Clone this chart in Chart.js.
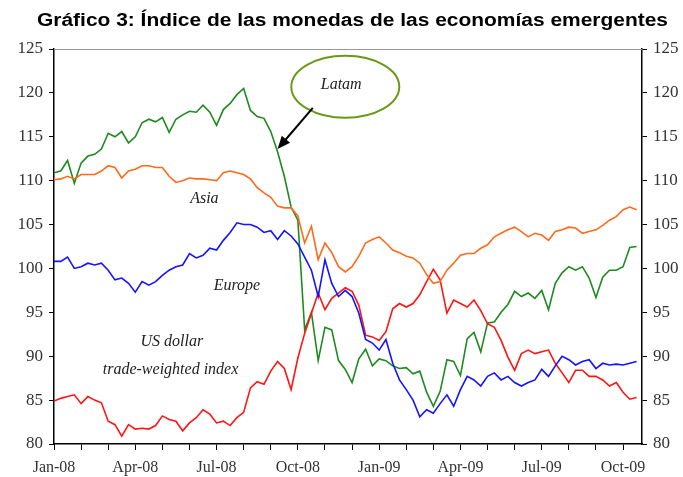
<!DOCTYPE html>
<html>
<head>
<meta charset="utf-8">
<script src="https://cdn.jsdelivr.net/npm/chart.js@4.4.1/dist/chart.umd.min.js"></script>
<style>
  body { margin: 0; background: #fff; }
  canvas { display: block; }
</style>
</head>
<body>
<canvas id="fxChart" width="683" height="477"></canvas>
<script>
// one point roughly every week (0.25 month), starting Jan-08
const STEP = 0.25;
const chartTitle = 'Gráfico 3: Índice de las monedas de las economías emergentes';
const tickLabels = ['Jan-08', 'Apr-08', 'Jul-08', 'Oct-08', 'Jan-09', 'Apr-09', 'Jul-09', 'Oct-09'];
const yTicks = [80, 85, 90, 95, 100, 105, 110, 115, 120, 125];

const latam = [
  110.9, 111.1, 112.3, 109.7, 112.0, 112.8, 113.0, 113.6, 115.4, 115.0,
  115.6, 114.3, 115.0, 116.6, 117.0, 116.7, 117.2, 115.5, 117.0, 117.5,
  117.9, 117.8, 118.6, 117.8, 116.3, 118.1, 118.8, 119.8, 120.5, 118.0,
  117.3, 117.1, 115.6, 113.3, 110.5, 107.0, 105.5, 93.0, 95.0, 89.5,
  93.3, 93.0, 89.5, 88.5, 87.0, 89.7, 90.8, 88.9, 89.7, 89.5,
  88.9, 88.6, 88.7, 88.0, 88.3, 85.9, 84.3, 86.0, 89.6, 89.4,
  87.8, 92.0, 92.7, 90.5, 93.8, 93.9, 95.0, 95.9, 97.4, 96.8,
  97.2, 96.6, 97.5, 95.3, 98.3, 99.5, 100.2, 99.8, 100.2, 98.9,
  96.7, 99.0, 99.8, 99.8, 100.2, 102.4, 102.5
];

const asia = [
  110.1, 110.2, 110.5, 110.2, 110.7, 110.7, 110.7, 111.1, 111.7, 111.5,
  110.3, 111.1, 111.3, 111.7, 111.7, 111.5, 111.5, 110.5, 109.8, 110.0,
  110.3, 110.2, 110.2, 110.1, 110.0, 110.9, 111.1, 110.9, 110.7, 110.2,
  109.2, 108.6, 108.1, 107.1, 106.9, 106.9, 106.0, 102.9, 104.8, 101.0,
  102.9, 101.8, 100.2, 99.6, 100.2, 101.4, 102.9, 103.3, 103.6, 102.9,
  102.1, 101.8, 101.4, 101.2, 100.6, 99.3, 98.3, 98.5, 99.8, 100.6,
  101.5, 101.7, 101.7, 102.3, 102.7, 103.6, 104.0, 104.4, 104.7, 104.2,
  103.6, 104.0, 103.8, 103.2, 104.2, 104.4, 104.7, 104.6, 104.0, 104.2,
  104.4, 104.9, 105.5, 105.9, 106.7, 107.0, 106.7
];

const europe = [
  100.8, 100.8, 101.3, 100.0, 100.2, 100.6, 100.4, 100.6, 99.8, 98.7,
  98.9, 98.3, 97.3, 98.5, 98.1, 98.5, 99.2, 99.8, 100.2, 100.4,
  101.7, 101.2, 101.5, 102.3, 102.1, 103.2, 104.1, 105.2, 105.0, 105.0,
  104.7, 104.1, 104.3, 103.3, 104.3, 103.7, 102.8, 101.3, 99.8, 96.8,
  101.0, 98.3, 96.8, 97.5, 96.8, 94.9, 91.9, 91.5, 90.7, 91.9,
  89.2, 87.3, 86.2, 85.0, 83.1, 83.9, 83.5, 84.6, 85.6, 84.3,
  86.2, 87.7, 87.3, 86.6, 87.7, 88.1, 87.3, 87.7, 87.0, 86.6,
  87.0, 87.3, 88.5, 87.7, 88.9, 90.0, 89.6, 89.0, 89.4, 89.6,
  88.6, 89.2, 89.0, 89.1, 89.0, 89.2, 89.4
];

const usDollar = [
  84.9, 85.2, 85.4, 85.6, 84.6, 85.4, 85.0, 84.7, 82.6, 82.2,
  80.9, 82.2, 81.7, 81.8, 81.7, 82.1, 83.2, 82.8, 82.6, 81.5,
  82.4, 83.0, 83.9, 83.4, 82.4, 82.6, 82.1, 83.0, 83.6, 86.4,
  87.1, 86.8, 88.3, 89.4, 88.6, 86.2, 89.8, 92.6, 94.9, 97.2,
  95.3, 96.6, 97.2, 97.8, 97.4, 95.8, 92.4, 92.2, 91.8, 92.8,
  95.4, 96.0, 95.6, 96.0, 97.0, 98.5, 99.9, 98.7, 94.9, 96.4,
  96.0, 95.6, 96.4, 95.2, 93.7, 93.3, 91.8, 89.9, 88.4, 90.3,
  90.7, 90.3, 90.5, 90.7, 89.2, 88.1, 87.0, 88.4, 88.4, 87.7,
  87.7, 87.3, 86.6, 87.0, 85.9, 85.1, 85.3
];

function toPoints(values) {
  return values.map((v, i) => ({ x: i * STEP, y: v }));
}

function makeSeries(label, values, color) {
  return {
    label: label,
    data: toPoints(values),
    borderColor: color,
    borderWidth: 1.6,
    pointRadius: 0,
    tension: 0,
    fill: false
  };
}

// the title in the source is a wide bold sans, stretch it to the same width
const titlePlugin = {
  id: 'wideTitle',
  afterDraw(chart) {
    const ctx = chart.ctx;
    ctx.save();
    ctx.font = 'bold 18px "Liberation Sans", Arial, sans-serif';
    ctx.fillStyle = '#000';
    ctx.textBaseline = 'alphabetic';
    const w = ctx.measureText(chartTitle).width;
    const stretch = 631 / w;
    ctx.translate(37, 26);
    ctx.scale(stretch, 1);
    ctx.fillText(chartTitle, 0, 0);
    ctx.restore();
  }
};

// labels, ellipse and arrow drawn on top of the lines
const notesPlugin = {
  id: 'notes',
  afterDatasetsDraw(chart) {
    const ctx = chart.ctx;
    const xs = chart.scales.x;
    const ys = chart.scales.y;
    const area = chart.chartArea;
    const px = m => xs.getPixelForValue(m);
    const py = v => ys.getPixelForValue(v);

    ctx.save();
    // thin grey frame line on top
    ctx.strokeStyle = '#9a9a9a';
    ctx.lineWidth = 1;
    ctx.beginPath();
    ctx.moveTo(area.left, area.top + 0.5);
    ctx.lineTo(area.right, area.top + 0.5);
    ctx.stroke();

    ctx.fillStyle = '#222';
    ctx.font = 'italic 16px "Liberation Serif", "Times New Roman", serif';
    ctx.textAlign = 'center';
    ctx.textBaseline = 'middle';
    ctx.fillText('Asia', px(5.55), py(107.9));
    ctx.fillText('Europe', px(6.75), py(98.0));
    ctx.fillText('US dollar', px(4.35), py(91.7));
    ctx.fillText('trade-weighted index', px(4.3), py(88.4));

    // Latam bubble
    ctx.strokeStyle = '#6a9a14';
    ctx.lineWidth = 2;
    ctx.beginPath();
    ctx.ellipse(px(10.75), py(120.7), 54, 31, 0, 0, Math.PI * 2);
    ctx.stroke();
    ctx.fillText('Latam', px(10.6), py(120.9));

    // arrow to the Latam line
    const x1 = px(9.55), y1 = py(118.3);
    const x2 = px(8.25), y2 = py(113.6);
    const ang = Math.atan2(y2 - y1, x2 - x1);
    ctx.strokeStyle = '#000';
    ctx.lineWidth = 2;
    ctx.beginPath();
    ctx.moveTo(x1, y1);
    ctx.lineTo(x2 - 8 * Math.cos(ang), y2 - 8 * Math.sin(ang));
    ctx.stroke();
    ctx.fillStyle = '#000';
    ctx.beginPath();
    ctx.moveTo(x2, y2);
    ctx.lineTo(x2 - 14 * Math.cos(ang - 0.4), y2 - 14 * Math.sin(ang - 0.4));
    ctx.lineTo(x2 - 14 * Math.cos(ang + 0.4), y2 - 14 * Math.sin(ang + 0.4));
    ctx.closePath();
    ctx.fill();
    ctx.restore();
  }
};

const tickFont = { family: '"Liberation Serif", "Times New Roman", serif', size: 16 };
const yTickFont = { family: '"Liberation Serif", "Times New Roman", serif', size: 17 };

function yAxis(position, width) {
  return {
    type: 'linear',
    position: position,
    min: 80,
    max: 125,
    afterBuildTicks(scale) {
      scale.ticks = yTicks.map(v => ({ value: v }));
    },
    afterFit(scale) {
      scale.width = width;
    },
    border: { color: '#000', width: 1.5 },
    grid: { drawOnChartArea: false, color: '#000', tickLength: 5 },
    ticks: { color: '#333', font: yTickFont, padding: 6 }
  };
}

const ctx = document.getElementById('fxChart').getContext('2d');

new Chart(ctx, {
  type: 'line',
  data: {
    datasets: [
      makeSeries('Asia', asia, '#ff6a1a'),
      makeSeries('Europe', europe, '#1414ff'),
      makeSeries('US dollar trade-weighted index', usDollar, '#ff1414'),
      makeSeries('Latam', latam, '#1f8a1f')
    ]
  },
  options: {
    responsive: false,
    animation: false,
    layout: { padding: { top: 49 } },
    plugins: {
      legend: { display: false },
      tooltip: { enabled: false },
      title: { display: false }
    },
    scales: {
      x: {
        type: 'linear',
        min: 0,
        max: 21.7,
        afterBuildTicks(scale) {
          const months = [];
          for (let m = 0; m <= 21; m++) months.push({ value: m });
          scale.ticks = months;
        },
        afterFit(scale) {
          scale.height = 33;
        },
        border: { color: '#000', width: 1.5 },
        grid: { drawOnChartArea: false, color: '#000', tickLength: 6 },
        ticks: {
          color: '#333',
          font: tickFont,
          padding: 8,
          autoSkip: false,
          maxRotation: 0,
          callback: v => (v % 3 === 0 ? tickLabels[v / 3] : '')
        }
      },
      y: yAxis('left', 54),
      y2: yAxis('right', 41)
    }
  },
  plugins: [notesPlugin, titlePlugin]
});
</script>
</body>
</html>
